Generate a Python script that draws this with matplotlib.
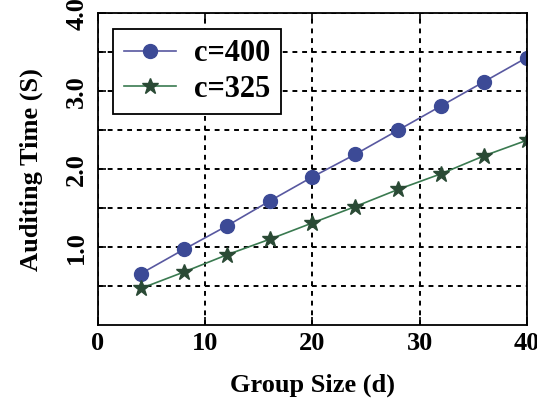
import numpy as np
import matplotlib.pyplot as plt

group_size = [4, 8, 12, 16, 20, 24, 28, 32, 36, 40]
time_c400 = [0.66, 0.97, 1.27, 1.59, 1.90, 2.19, 2.50, 2.81, 3.12, 3.43]
time_c325 = [0.47, 0.68, 0.90, 1.10, 1.31, 1.52, 1.74, 1.94, 2.17, 2.37]

plt.rcParams['font.family'] = 'Liberation Serif'
plt.rcParams['font.weight'] = 'bold'

fig = plt.figure(figsize=(5.37, 4.11), dpi=100)
ax = fig.add_axes([0.1825, 0.209, 0.7985, 0.759])

ax.plot(group_size, time_c400, color='#5858a0', lw=1.2, marker='o', ms=10,
        markerfacecolor='#3c4a96', markeredgecolor='#3c4a96', label='c=400')
ax.plot(group_size, time_c325, color='#3a7a50', lw=1.2, marker='*', ms=12,
        markerfacecolor='#2a4a35', markeredgecolor='#2a4a35', label='c=325')

ax.set_xlim(0, 40)
ax.set_ylim(0, 4.0)
ax.set_xticks([0, 10, 20, 30, 40])
ax.set_yticks([1.0, 2.0, 3.0, 4.0])
ax.set_yticklabels(['1.0', '2.0', '3.0', '4.0'], rotation=90, va='center')
ax.set_yticks([0.5, 1.5, 2.5, 3.5], minor=True)

ax.tick_params(axis='both', which='both', direction='in', length=6, width=1.2,
               top=True, right=False, labelsize=19)
ax.tick_params(axis='x', pad=5)
ax.tick_params(axis='y', pad=7)

ax.grid(True, which='both', axis='y', color='black', linestyle=(0, (2.5, 2.5)), lw=1.4)
ax.grid(True, which='major', axis='x', color='black', linestyle=(0, (2.5, 2.5)), lw=1.4)

for s in ax.spines.values():
    s.set_linewidth(1.3)

ax.set_xlabel('Group Size (d)', fontsize=19, fontweight='bold', labelpad=13)
ax.set_ylabel('Auditing Time (S)', fontsize=19, fontweight='bold', labelpad=16)

leg = ax.legend(loc='upper left', fontsize=22, fancybox=False, framealpha=1,
                edgecolor='black', handlelength=1.7, handletextpad=0.6,
                borderpad=0.35, labelspacing=0.2, borderaxespad=0,
                bbox_to_anchor=(0.035, 0.95))
leg.get_frame().set_linewidth(1.3)

fig.savefig('out.png', dpi=100)
